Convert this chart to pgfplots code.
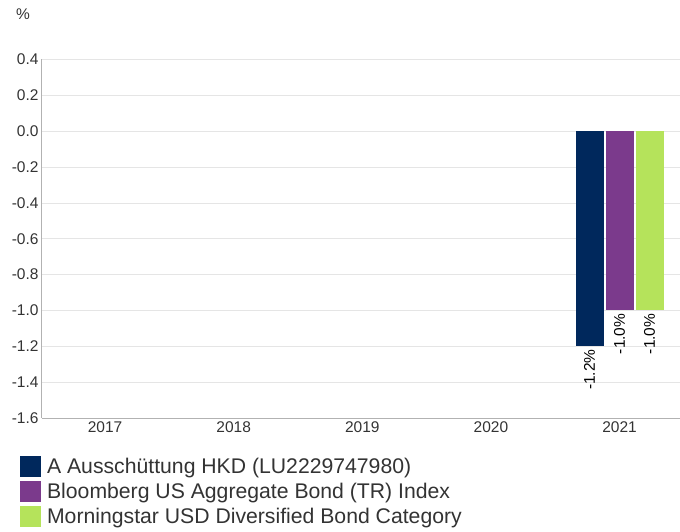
\documentclass[border=0pt]{standalone}
\usepackage{pgfplots}
\pgfplotsset{compat=1.18}
\usepackage{fontspec}
\setmainfont{Liberation Sans}
\definecolor{cnavy}{HTML}{00285C}
\definecolor{cpurple}{HTML}{7B3A8C}
\definecolor{cgreen}{HTML}{B5E35B}
\definecolor{txt}{HTML}{333333}
\begin{document}
\begin{tikzpicture}
\useasboundingbox (0,0) rectangle (680pt,531pt);
\begin{axis}[
  at={(42pt,113pt)}, anchor=south west,
  scale only axis, width=638pt, height=358.5pt,
  xmin=-0.49, xmax=4.47, ymin=-1.6, ymax=0.4,
  xtick={0,1,2,3,4}, xticklabels={2017,2018,2019,2020,2021},
  ytick={-1.6,-1.4,...,0.41},
  yticklabel={\pgfmathprintnumber[fixed,precision=1,fixed zerofill]{\tick}},
  /pgf/number format/assume math mode=true,
  ticklabel style={font=\fontsize{15.5}{18}\selectfont, text=txt},
  major tick length=0pt,
  axis x line*=bottom, axis y line*=left,
  axis line style={draw=black!30, line width=1pt},
  ymajorgrids, grid style={draw=black!10, line width=0.8pt},
  ybar=2pt, bar width=28pt,
  nodes near coords={\pgfmathprintnumber[fixed,precision=1,fixed zerofill]{\pgfplotspointmeta}\%},
  every node near coord/.append style={rotate=90, anchor=east, font=\fontsize{15.5}{18}\selectfont, text=black, inner sep=3pt},
  legend style={at={(axis description cs:-0.0345,-0.106)}, anchor=north west, draw=none, fill=none,
    inner sep=0pt, row sep=4pt, font=\fontsize{21.2}{24}\selectfont, text=txt,
    nodes={inner sep=0pt, anchor=west}},
  legend cell align=left,
  legend image code/.code={\path[#1,draw=none] (0pt,-10.5pt) rectangle (21pt,10.5pt);},
  clip=false,
]
\addplot[fill=cnavy, draw=none] coordinates {(4,-1.2)};
\addplot[fill=cpurple, draw=none] coordinates {(4,-1.0)};
\addplot[fill=cgreen, draw=none] coordinates {(4,-1.0)};
\legend{{\ A Ausschüttung HKD (LU2229747980)},{\ Bloomberg US Aggregate Bond (TR) Index},{\ Morningstar USD Diversified Bond Category}}
\node[font=\fontsize{15.5}{18}\selectfont, text=txt] at (axis description cs:-0.0298,1.1255) {\%};
\end{axis}
\end{tikzpicture}
\end{document}
